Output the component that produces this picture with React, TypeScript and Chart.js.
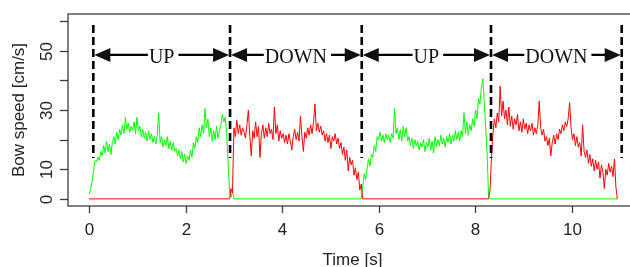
import React, { useEffect, useRef } from 'react';
import { Chart, registerables } from 'chart.js';

Chart.register(...registerables);

// ---- data ----
const STEP = 0.03; // sampling interval [s]
const END_TIME = 10.95;

const X_TICKS = [0, 2, 4, 6, 8, 10];
const Y_TICKS = [0, 10, 20, 30, 40, 50, 60];
const Y_TICK_LABELS = ['0', '10', '', '30', '', '50', ''];

const PHASE_BOUNDS = [0.085, 2.92, 5.65, 8.33, 11.04];
const PHASE_LABELS = ['UP', 'DOWN', 'UP', 'DOWN'];

const up1Start = 0.0;
const up1 = [1.5, 3.5, 6, 9.5, 13, 12.5, 14, 13, 16, 14.5, 18, 15.5, 19.5, 16, 18.5, 15, 19, 21, 18.5, 22.5, 20, 23.5, 21.5, 25, 22, 27.5, 23.5, 25.5, 22.5, 24.5, 23, 26, 22, 27.5, 23, 24.5, 21, 23.5, 20.5, 22.5, 19.5, 23, 20, 22, 19, 21, 18.5, 21.5, 29, 19, 21, 17.5, 20, 18, 21, 17, 19.5, 16.5, 19, 16, 17, 14.5, 16.5, 13.5, 16, 12.5, 15, 12, 14.5, 13, 16.5, 14, 19, 17, 21, 19, 24, 21, 25, 22, 30.5, 24, 27, 21, 24, 19.5, 23, 20, 24.5, 20.5, 23, 25, 28.5, 26, 27.5, 22, 12, 2, 0.5, 3, 0];

const down1Start = 2.91;
const down1 = [0, 3.5, 2, 24, 21, 26.5, 22, 25, 21.5, 24, 22.5, 20.5, 25, 30, 21, 14.5, 23, 20.5, 26, 21, 24.5, 14, 22, 25, 20.5, 24, 21, 25.5, 22, 23.5, 20, 31, 22, 25, 19.5, 23, 20.5, 22, 19, 21.5, 18.5, 22, 19.5, 16.5, 21, 23.5, 20, 22.5, 19.5, 28, 21, 16, 22.5, 20.5, 24, 21.5, 25, 22, 26, 32, 23, 25.5, 22.5, 24.5, 21.5, 23, 19.5, 22, 19, 21.5, 17, 21, 19.5, 22, 18.5, 20.5, 17, 19, 15, 17.5, 13, 16.5, 9.5, 14, 11.5, 13, 8, 10.5, 6.5, 9, 3, 5, 0];

const up2Start = 5.64;
const up2 = [0, 4, 8.5, 6.5, 10, 13.5, 11, 15, 14, 18, 16, 21, 20, 22.5, 19.5, 21.5, 19, 22, 20, 21.5, 19, 22, 20.5, 30.5, 22, 24, 20, 23.5, 19.5, 24.5, 21, 24, 19.5, 21, 18, 20.5, 17, 20, 18, 19.5, 16.5, 19, 17.5, 20, 16, 19, 17.5, 20.5, 16.5, 19.5, 15.5, 21, 17.5, 20, 18, 21.5, 18.5, 20.5, 17.5, 21, 19, 22, 18.5, 21.5, 19.5, 23, 20, 22.5, 19.5, 23, 21, 29, 22, 26, 21.5, 25, 23, 27, 24.5, 30, 27, 34, 32, 37.5, 40.5, 32.5, 24, 15, 1, 0];

const down2Start = 8.28;
const down2 = [0, 3, 14, 22, 27, 24, 29, 26, 38, 28, 33, 27, 30, 25, 31, 24.5, 28, 23.5, 27, 25, 28.5, 23, 26, 22.5, 27, 23.5, 25.5, 22, 25, 23, 25.5, 21.5, 24, 22, 25, 33, 24, 21.5, 23.5, 19.5, 21, 18, 20.5, 14.5, 19, 21.5, 18.5, 22, 20, 23.5, 22, 25, 23, 26, 24.5, 27, 32.5, 24, 20, 22, 18, 21, 17.5, 19, 14.5, 25, 16, 14, 16.5, 12, 15, 11, 13.5, 9.5, 13, 10, 12.5, 7, 11.5, 9, 3.5, 10, 8, 12, 9, 11, 7.5, 13.5, 4, 0];

// ---- helpers ----
function toPoints(start: number, vals: number[]) {
  return vals.map((v, i) => ({ x: +(start + i * STEP).toFixed(3), y: v }));
}

const greenPoints = [...toPoints(up1Start, up1), ...toPoints(up2Start, up2), { x: END_TIME, y: 0 }];
const redPoints = [{ x: 0, y: 0 }, ...toPoints(down1Start, down1), ...toPoints(down2Start, down2)];

const SANS = "'Liberation Sans', Arial, Helvetica, sans-serif";
const SERIF = "'Liberation Serif', 'Times New Roman', serif";

const overlay = {
  id: 'overlay',
  afterDatasetsDraw(chart: any) {
    const { ctx, chartArea: a, scales } = chart;
    const xs = scales.x;
    const ys = scales.y;
    ctx.save();

    // box
    ctx.strokeStyle = '#3c3c3c';
    ctx.lineWidth = 1.3;
    ctx.strokeRect(a.left, a.top, a.right - a.left, a.bottom - a.top);

    // x ticks + labels
    ctx.fillStyle = '#222';
    ctx.font = `17px ${SANS}`;
    ctx.textAlign = 'center';
    ctx.textBaseline = 'alphabetic';
    X_TICKS.forEach((t) => {
      const px = Math.round(xs.getPixelForValue(t)) + 0.5;
      ctx.beginPath();
      ctx.moveTo(px, a.bottom);
      ctx.lineTo(px, a.bottom + 7);
      ctx.stroke();
      ctx.fillText(String(t), px, a.bottom + 29);
    });
    ctx.fillText('Time [s]', (a.left + a.right) / 2 - 2, a.bottom + 59);

    // y ticks + labels (rotated)
    Y_TICKS.forEach((t, i) => {
      const py = Math.round(ys.getPixelForValue(t)) + 0.5;
      ctx.beginPath();
      ctx.moveTo(a.left, py);
      ctx.lineTo(a.left - 8, py);
      ctx.stroke();
      const lab = Y_TICK_LABELS[i];
      if (lab) {
        ctx.save();
        ctx.translate(a.left - 16, py);
        ctx.rotate(-Math.PI / 2);
        ctx.fillText(lab, 0, 0);
        ctx.restore();
      }
    });
    ctx.save();
    ctx.translate(24, (a.top + a.bottom) / 2);
    ctx.rotate(-Math.PI / 2);
    ctx.fillText('Bow speed [cm/s]', 0, 0);
    ctx.restore();

    // phase boundaries (dashed)
    ctx.strokeStyle = '#000';
    ctx.lineWidth = 2.6;
    ctx.setLineDash([8, 4]);
    const yTop = ys.getPixelForValue(58.7);
    const yBot = ys.getPixelForValue(13.8);
    PHASE_BOUNDS.forEach((b) => {
      const px = xs.getPixelForValue(b);
      ctx.beginPath();
      ctx.moveTo(px, yTop);
      ctx.lineTo(px, yBot);
      ctx.stroke();
    });
    ctx.setLineDash([]);

    // arrows with labels
    const ay = ys.getPixelForValue(48.6);
    ctx.font = `20px ${SERIF}`;
    ctx.fillStyle = '#111';
    ctx.lineWidth = 2.2;
    const head = (tipX: number, dir: number) => {
      ctx.beginPath();
      ctx.moveTo(tipX, ay);
      ctx.lineTo(tipX + dir * 16, ay - 7);
      ctx.lineTo(tipX + dir * 16, ay + 7);
      ctx.closePath();
      ctx.fill();
    };
    PHASE_LABELS.forEach((lab, i) => {
      const x1 = xs.getPixelForValue(PHASE_BOUNDS[i]);
      const x2 = xs.getPixelForValue(PHASE_BOUNDS[i + 1]);
      const cx = (x1 + x2) / 2;
      const w = ctx.measureText(lab).width;
      ctx.beginPath();
      ctx.moveTo(x1 + 10, ay);
      ctx.lineTo(cx - w / 2 - 1, ay);
      ctx.moveTo(cx + w / 2 + 4, ay);
      ctx.lineTo(x2 - 10, ay);
      ctx.stroke();
      head(x1 + 1, 1);
      head(x2 - 1, -1);
      ctx.fillText(lab, cx, ay + 8);
    });

    ctx.restore();
  },
};

export default function App() {
  const ref = useRef<HTMLCanvasElement>(null);
  useEffect(() => {
    if (!ref.current) return;
    const chart = new Chart(ref.current, {
      type: 'line',
      data: {
        datasets: [
          {
            label: 'down',
            data: redPoints,
            borderColor: '#ff0000',
            borderWidth: 1,
            pointRadius: 0,
            tension: 0,
            fill: false,
          },
          {
            label: 'up',
            data: greenPoints,
            borderColor: '#00ff00',
            borderWidth: 1,
            pointRadius: 0,
            tension: 0,
            fill: false,
          },
        ],
      },
      options: {
        animation: false,
        responsive: false,
        devicePixelRatio: 1,
        layout: { padding: { left: 68, right: 9, top: 14, bottom: 61 } },
        plugins: { legend: { display: false }, tooltip: { enabled: false } },
        scales: {
          x: { type: 'linear', min: -0.44, max: 11.44, display: false },
          y: { type: 'linear', min: -2.4, max: 62.4, display: false },
        },
      },
      plugins: [overlay],
    });
    return () => chart.destroy();
  }, []);
  return (
    <div style={{ position: 'fixed', left: 0, top: 0, width: 630, height: 267, overflow: 'hidden', background: '#fff' }}>
      <canvas ref={ref} width={650} height={267} style={{ display: 'block', width: 650, height: 267 }} />
    </div>
  );
}
